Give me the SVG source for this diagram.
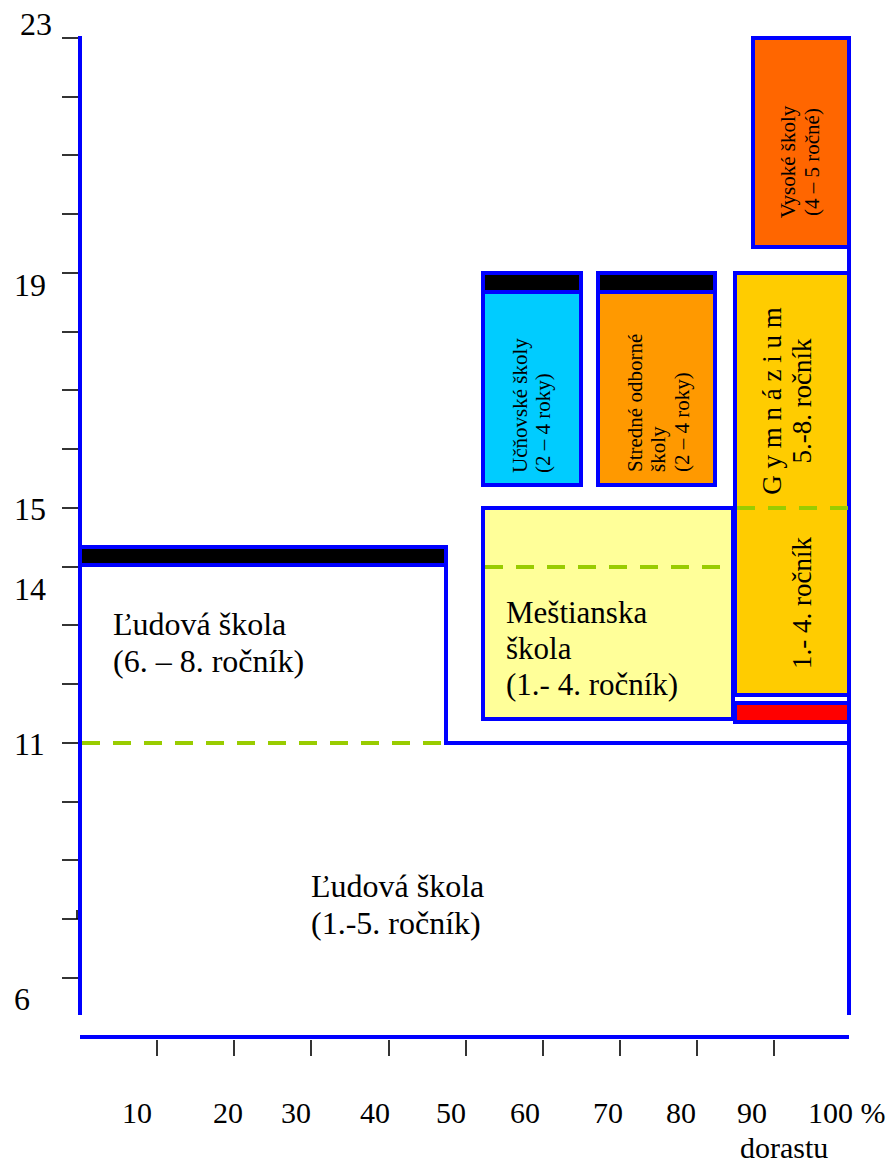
<svg xmlns="http://www.w3.org/2000/svg" width="896" height="1167" viewBox="0 0 896 1167">
  <style>
    .txt { font-family: "Liberation Serif", "Times New Roman", serif; fill: #000; }
    .ax { stroke: #0000FF; stroke-width: 4; fill: none; }
    .box { stroke: #0000FF; stroke-width: 4; }
    .tick { stroke: #000; stroke-width: 1.6; }
    .dash { stroke: #99CC00; stroke-width: 4; stroke-dasharray: 18 13; fill: none; }
    .ylab { font-size: 32px; }
    .xlab { font-size: 30px; text-anchor: middle; }
    .big { font-size: 32px; }
    .mid { font-size: 31px; }
    .gym { font-size: 27px; text-anchor: middle; }
    .small { font-size: 21px; }
  </style>

  <rect width="896" height="1167" fill="#FFFFFF"/>

  <!-- vertical axis: age -->
  <g id="y-axis">
    <g class="tick">
      <line x1="62" y1="38" x2="80" y2="38"/>
      <line x1="62" y1="97" x2="80" y2="97"/>
      <line x1="62" y1="155" x2="80" y2="155"/>
      <line x1="62" y1="214" x2="80" y2="214"/>
      <line x1="62" y1="273" x2="80" y2="273"/>
      <line x1="62" y1="332" x2="80" y2="332"/>
      <line x1="62" y1="390" x2="80" y2="390"/>
      <line x1="62" y1="449" x2="80" y2="449"/>
      <line x1="62" y1="508" x2="80" y2="508"/>
      <line x1="62" y1="567" x2="80" y2="567"/>
      <line x1="62" y1="625" x2="80" y2="625"/>
      <line x1="62" y1="684" x2="80" y2="684"/>
      <line x1="62" y1="743" x2="80" y2="743"/>
      <line x1="62" y1="802" x2="80" y2="802"/>
      <line x1="62" y1="860" x2="80" y2="860"/>
      <line x1="62" y1="919" x2="80" y2="919"/>
      <line x1="77" y1="910" x2="77" y2="919"/>
      <line x1="62" y1="978" x2="80" y2="978"/>
    </g>
    <text class="txt ylab" x="20" y="35">23</text>
    <text class="txt ylab" x="14" y="296">19</text>
    <text class="txt ylab" x="14" y="520">15</text>
    <text class="txt ylab" x="14" y="600">14</text>
    <text class="txt ylab" x="14" y="755">11</text>
    <text class="txt ylab" x="14" y="1010">6</text>
  </g>

  <!-- horizontal axis: share of youth -->
  <g id="x-axis">
    <line class="ax" x1="80" y1="1037" x2="849" y2="1037" stroke-width="5"/>
    <g class="tick">
      <line x1="157" y1="1040" x2="157" y2="1056"/>
      <line x1="234" y1="1040" x2="234" y2="1056"/>
      <line x1="311" y1="1040" x2="311" y2="1056"/>
      <line x1="389" y1="1040" x2="389" y2="1056"/>
      <line x1="466" y1="1040" x2="466" y2="1056"/>
      <line x1="543" y1="1040" x2="543" y2="1056"/>
      <line x1="620" y1="1040" x2="620" y2="1056"/>
      <line x1="697" y1="1040" x2="697" y2="1056"/>
      <line x1="774" y1="1040" x2="774" y2="1056"/>
    </g>
    <text class="txt xlab" x="137" y="1123">10</text>
    <text class="txt xlab" x="228" y="1123">20</text>
    <text class="txt xlab" x="296" y="1123">30</text>
    <text class="txt xlab" x="375" y="1123">40</text>
    <text class="txt xlab" x="451" y="1123">50</text>
    <text class="txt xlab" x="525" y="1123">60</text>
    <text class="txt xlab" x="608" y="1123">70</text>
    <text class="txt xlab" x="681" y="1123">80</text>
    <text class="txt xlab" x="752" y="1123">90</text>
    <text class="txt" x="808" y="1123" font-size="30">100 %</text>
    <text class="txt" x="740" y="1158" font-size="30">dorastu</text>
  </g>

  <!-- frame lines of the chart -->
  <g id="connectors">
    <line class="ax" x1="80" y1="36" x2="80" y2="1015"/>
    <line class="ax" x1="849" y1="36" x2="849" y2="1015"/>
    <line class="ax" x1="446" y1="547" x2="446" y2="743"/>
    <line class="ax" x1="444" y1="743" x2="849" y2="743"/>
    <line class="dash" x1="82" y1="743" x2="444" y2="743"/>
  </g>

  <!-- primary school, grades 1-5 -->
  <g id="ludova-1-5">
    <text class="txt big" x="311" y="897">Ľudová škola</text>
    <text class="txt big" x="311" y="934">(1.-5. ročník)</text>
  </g>

  <!-- primary school, grades 6-8 -->
  <g id="ludova-6-8">
    <rect class="box" x="80" y="547" width="366" height="18" fill="#000000"/>
    <text class="txt big" x="113" y="635">Ľudová škola</text>
    <text class="txt big" x="113" y="672">(6. – 8. ročník)</text>
  </g>

  <!-- lower secondary school -->
  <g id="mestianska">
    <rect class="box" x="483" y="508" width="250" height="211" fill="#FFFF99"/>
    <line class="dash" x1="485" y1="567" x2="731" y2="567"/>
    <text class="txt mid" x="506" y="623">Meštianska</text>
    <text class="txt mid" x="506" y="659">škola</text>
    <text class="txt mid" x="506" y="695">(1.- 4. ročník)</text>
  </g>

  <!-- apprentice schools -->
  <g id="ucnovske">
    <rect class="box" x="483" y="292" width="98" height="193" fill="#00CCFF"/>
    <rect class="box" x="483" y="273" width="98" height="19" fill="#000000"/>
    <text class="txt small" transform="translate(527 473) rotate(-90)">Učňovské školy</text>
    <text class="txt small" transform="translate(550 473) rotate(-90)">(2 – 4 roky)</text>
  </g>

  <!-- secondary vocational schools -->
  <g id="stredne">
    <rect class="box" x="598" y="292" width="117" height="193" fill="#FF9900"/>
    <rect class="box" x="598" y="273" width="117" height="19" fill="#000000"/>
    <text class="txt small" transform="translate(642 472) rotate(-90)">Stredné odborné</text>
    <text class="txt small" transform="translate(665 472) rotate(-90)">školy</text>
    <text class="txt small" transform="translate(689 472) rotate(-90)">(2 – 4 roky)</text>
  </g>

  <!-- grammar school -->
  <g id="gymnazium">
    <rect class="box" x="735" y="273" width="114" height="422" fill="#FFCC00"/>
    <rect class="box" x="735" y="703" width="114" height="19" fill="#FF0000"/>
    <line class="dash" x1="737" y1="508" x2="849" y2="508"/>
    <text class="txt gym" transform="translate(781 401) rotate(-90)">G y m n á z i u m</text>
    <text class="txt gym" transform="translate(811 401) rotate(-90)">5.-8. ročník</text>
    <text class="txt gym" transform="translate(811 603) rotate(-90)">1.- 4. ročník</text>
  </g>

  <!-- universities -->
  <g id="vysoke">
    <rect class="box" x="753" y="38" width="96" height="209" fill="#FF6600"/>
    <text class="txt small" text-anchor="middle" transform="translate(795 162) rotate(-90)">Vysoké školy</text>
    <text class="txt small" text-anchor="middle" transform="translate(819 162) rotate(-90)">(4 – 5 ročné)</text>
  </g>
</svg>
